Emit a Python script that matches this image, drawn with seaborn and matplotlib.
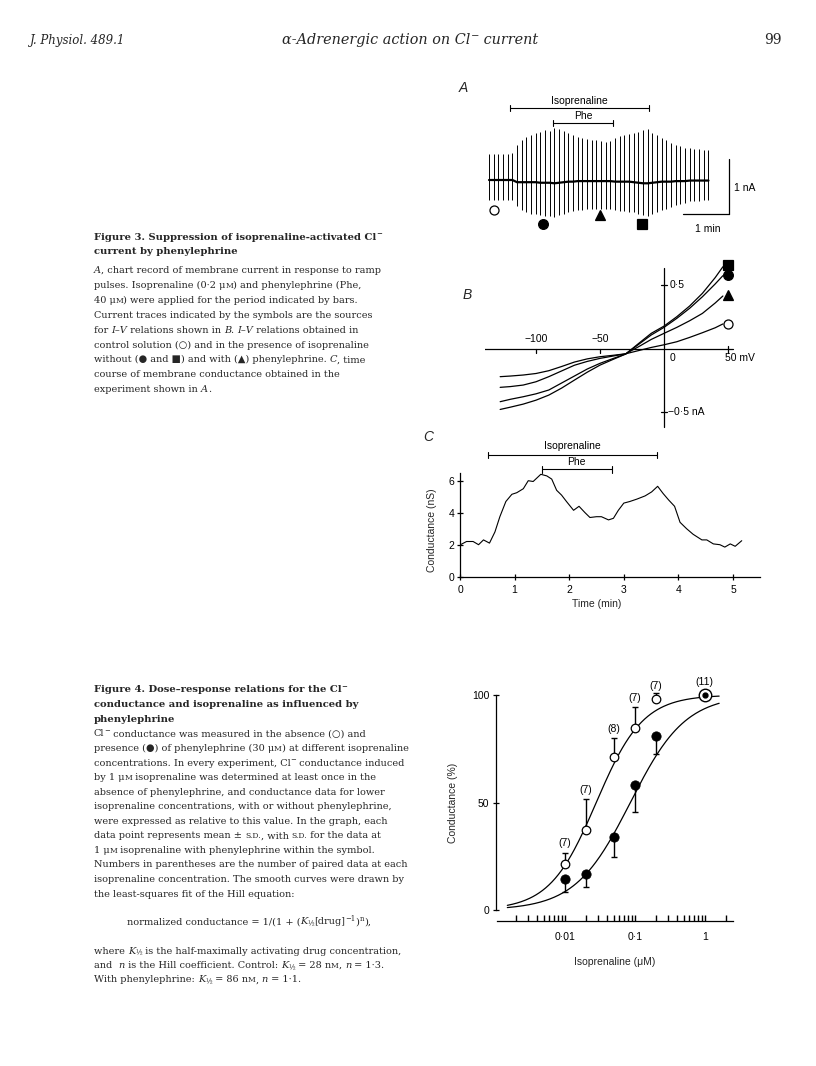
import re
import numpy as np
import pandas as pd
import matplotlib
matplotlib.use("Agg")
import matplotlib.pyplot as plt
import seaborn as sns

sns.set_style("white")
plt.rcParams["font.family"] = ["Liberation Sans", "DejaVu Sans"]
plt.rcParams["axes.unicode_minus"] = True

W, H = 816, 1066

# ------------------------------------------------------------------ data
# Figure 3A: chart record, one ramp pulse every 0.1 min (envelope in nA)
ramp_time = [0.0, 0.1, 0.2, 0.3, 0.4, 0.5, 0.6, 0.7, 0.8, 0.9, 1.0, 1.1, 1.2, 1.3,
             1.4, 1.5, 1.6, 1.7, 1.8, 1.9, 2.0, 2.1, 2.2, 2.3, 2.4, 2.5, 2.6, 2.7,
             2.8, 2.9, 3.0, 3.1, 3.2, 3.3, 3.4, 3.5, 3.6, 3.7, 3.8, 3.9, 4.0, 4.1,
             4.2, 4.3, 4.4, 4.5, 4.6, 4.7]
ramp_top = [0.48, 0.48, 0.48, 0.48, 0.48, 0.49, 0.64, 0.73, 0.78, 0.82, 0.85, 0.88,
            0.91, 0.89, 0.94, 0.92, 0.90, 0.85, 0.82, 0.79, 0.76, 0.74, 0.73, 0.72,
            0.71, 0.70, 0.71, 0.76, 0.80, 0.82, 0.84, 0.86, 0.88, 0.91, 0.92, 0.85,
            0.82, 0.76, 0.72, 0.67, 0.64, 0.61, 0.59, 0.58, 0.56, 0.56, 0.55, 0.55]
ramp_bottom = [-0.36, -0.36, -0.36, -0.36, -0.36, -0.37, -0.48, -0.55, -0.58, -0.61,
               -0.62, -0.64, -0.65, -0.65, -0.67, -0.64, -0.61, -0.58, -0.56, -0.55,
               -0.54, -0.53, -0.52, -0.52, -0.52, -0.52, -0.52, -0.54, -0.56, -0.57,
               -0.58, -0.59, -0.62, -0.64, -0.66, -0.62, -0.58, -0.55, -0.52, -0.49,
               -0.46, -0.43, -0.41, -0.39, -0.38, -0.38, -0.37, -0.36]
ramp_hold = [0.0, 0.0, 0.0, 0.0, 0.0, 0.0, -0.04, -0.04, -0.04, -0.04, -0.04, -0.05,
             -0.05, -0.05, -0.06, -0.05, -0.04, -0.03, -0.03, -0.02, -0.02, -0.02,
             -0.02, -0.02, -0.02, -0.02, -0.02, -0.03, -0.03, -0.03, -0.03, -0.04,
             -0.05, -0.06, -0.06, -0.05, -0.04, -0.03, -0.03, -0.03, -0.02, -0.02,
             -0.02, -0.01, -0.01, -0.01, -0.01, -0.01]
iv_sweep_time = [0.1, 1.15, 2.38, 3.28]          # sweeps marked by symbols
a_iso_period = [0.45, 3.43]
a_phe_period = [1.37, 2.66]

# Figure 3B: I-V relations (mV, nA)
iv_voltage = [-128, -120, -110, -100, -90, -80, -70, -60, -50, -40, -30, -20, -10,
              0, 10, 20, 30, 40, 46]
iv_control = [-0.22, -0.215, -0.207, -0.195, -0.173, -0.14, -0.105, -0.08, -0.063,
              -0.052, -0.04, -0.015, 0.01, 0.031, 0.055, 0.089, 0.126, 0.165, 0.195]
iv_with_phe = [-0.304, -0.298, -0.286, -0.26, -0.22, -0.175, -0.13, -0.10, -0.076,
               -0.058, -0.04, 0.015, 0.073, 0.121, 0.168, 0.22, 0.278, 0.36, 0.415]
iv_iso_early = [-0.417, -0.398, -0.378, -0.355, -0.325, -0.27, -0.215, -0.16, -0.115,
                -0.078, -0.042, 0.033, 0.108, 0.168, 0.239, 0.318, 0.409, 0.51, 0.575]
iv_iso_late = [-0.478, -0.46, -0.436, -0.405, -0.365, -0.31, -0.247, -0.185, -0.129,
               -0.085, -0.042, 0.04, 0.121, 0.178, 0.252, 0.336, 0.436, 0.56, 0.645]
iv_end_current = [0.195, 0.42, 0.58, 0.66]

# Figure 3C: conductance time course
cond_time = [0.02, 0.12, 0.24, 0.34, 0.43, 0.54, 0.64, 0.73, 0.84, 0.95, 1.04, 1.16,
             1.25, 1.34, 1.48, 1.59, 1.68, 1.77, 1.86, 1.95, 2.08, 2.18, 2.29, 2.38,
             2.50, 2.59, 2.72, 2.81, 2.90, 3.00, 3.11, 3.24, 3.39, 3.51, 3.62, 3.72,
             3.82, 3.93, 4.03, 4.15, 4.27, 4.43, 4.52, 4.64, 4.76, 4.85, 4.95, 5.04, 5.16]
cond_ns = [2.02, 2.2, 2.2, 2.0, 2.3, 2.1, 2.8, 3.75, 4.7, 5.15, 5.25, 5.5, 6.0, 5.95,
           6.4, 6.3, 6.1, 5.4, 5.1, 4.7, 4.15, 4.4, 4.0, 3.7, 3.75, 3.75, 3.55, 3.65,
           4.15, 4.6, 4.7, 4.85, 5.05, 5.3, 5.65, 5.2, 4.8, 4.4, 3.4, 3.0, 2.65, 2.3,
           2.3, 2.05, 2.0, 1.85, 2.05, 1.9, 2.25]
c_iso_period = [0.51, 3.60]
c_phe_period = [1.50, 2.78]

# Figure 4: dose-response
iso_conc = [0.01, 0.02, 0.05, 0.1, 0.2, 1.0]
ctrl_mean = [21.4, 37.2, 71.0, 84.5, 98.1, 100.0]
ctrl_sd = [5.2, 14.3, 9.2, 9.8, 2.7, 0.0]
phe_mean = [14.3, 16.7, 34.1, 58.1, 81.0, 100.0]
phe_sd = [6.1, 6.2, 9.6, 12.4, 8.6, 0.0]
n_pairs = ["(7)", "(7)", "(8)", "(7)", "(7)", "(11)"]
n_label_y = [31.3, 55.8, 84.0, 98.6, 104.3, 105.9]
hill_ctrl = (0.028, 1.3)   # K1/2 (uM), n
hill_phe = (0.086, 1.1)

# ------------------------------------------------------------------ helpers
fig = plt.figure(figsize=(W / 100, H / 100), dpi=100)
fig.patch.set_facecolor("white")
R = fig.canvas.get_renderer()
SERIF = ["DejaVu Serif", "DejaVu Sans"]
SANS = ["Liberation Sans", "DejaVu Sans"]


def px_axes(x0, y0, x1, y1):
    return fig.add_axes([x0 / W, 1 - y1 / H, (x1 - x0) / W, (y1 - y0) / H])


def seg_width(txt, kw):
    t1 = fig.text(0, 0, "|" + txt + "|", **kw)
    t2 = fig.text(0, 0, "||", **kw)
    w = t1.get_window_extent(R).width - t2.get_window_extent(R).width
    t1.remove()
    t2.remove()
    return w


TAG = re.compile(r"(<i>.*?</i>|<sup>.*?</sup>|<sub>.*?</sub>|<sc>.*?</sc>)")


def rich(x_px, y_px, markup, size, weight="normal", style="normal",
         family=SERIF, draw=True, ha="left"):
    parts = [p for p in TAG.split(markup) if p]
    items = []
    for p in parts:
        kw = dict(family=family, size=size, weight=weight, style=style)
        dy = 0.0
        if p.startswith("<i>"):
            txt = p[3:-4]
            kw["style"] = "italic"
        elif p.startswith("<sup>"):
            txt = p[5:-6]
            kw["size"] = size * 0.7
            dy = -size * 1.389 * 0.38
        elif p.startswith("<sub>"):
            txt = p[5:-6]
            kw["size"] = size * 0.7
            dy = size * 1.389 * 0.22
        elif p.startswith("<sc>"):
            txt = p[4:-5]
            kw["size"] = size * 0.78
        else:
            txt = p
        items.append((txt, kw, dy, seg_width(txt, kw)))
    total = sum(it[3] for it in items)
    if not draw:
        return total
    x = x_px - (total / 2 if ha == "center" else 0)
    for txt, kw, dy, w in items:
        fig.text(x / W, 1 - (y_px + dy) / H, txt, ha="left", va="baseline", **kw)
        x += w
    return total


def fit_size(markup, target, **kw):
    return 10.0 * target / rich(0, 0, markup, 10.0, draw=False, **kw)


# ------------------------------------------------------------------ header
hdr_size = fit_size("<i>α-Adrenergic action on Cl</i><sup>−</sup><i> current</i>", 255)
rich(410, 44, "<i>α-Adrenergic action on Cl</i><sup>−</sup><i> current</i>", hdr_size, ha="center")
fig.text(30 / W, 1 - 44 / H, "J. Physiol. 489.1", family=SERIF, style="italic",
         size=8.5, ha="left", va="baseline")
fig.text(782 / W, 1 - 44 / H, "99", family=SERIF, size=10, ha="right", va="baseline")

# ------------------------------------------------------------------ captions
X0 = 94
f3_title = ["Figure 3. Suppression of isoprenaline-activated Cl<sup>−</sup>",
            "current by phenylephrine"]
f3_body = ["<i>A</i>, chart record of membrane current in response to ramp",
           "pulses. Isoprenaline (0·2 μ<sc>M</sc>) and phenylephrine (Phe,",
           "40 μ<sc>M</sc>) were applied for the period indicated by bars.",
           "Current traces indicated by the symbols are the sources",
           "for <i>I–V</i> relations shown in <i>B</i>. <i>I–V</i> relations obtained in",
           "control solution (○) and in the presence of isoprenaline",
           "without (● and ■) and with (▲) phenylephrine. <i>C</i>, time",
           "course of membrane conductance obtained in the",
           "experiment shown in <i>A</i>."]
tsize = fit_size(f3_title[0], 287, weight="bold")
bsize = fit_size(f3_body[0], 287)
for k, line in enumerate(f3_title):
    rich(X0, 236 + 3.5 + 15 * k, line, tsize, weight="bold")
for k, line in enumerate(f3_body):
    rich(X0, 269.5 + 3.5 + 14.9 * k, line, bsize)

f4_title = ["Figure 4. Dose–response relations for the Cl<sup>−</sup>",
            "conductance and isoprenaline as influenced by",
            "phenylephrine"]
f4_body = ["Cl<sup>−</sup> conductance was measured in the absence (○) and",
           "presence (●) of phenylephrine (30 μ<sc>M</sc>) at different isoprenaline",
           "concentrations. In every experiment, Cl<sup>−</sup> conductance induced",
           "by 1 μ<sc>M</sc> isoprenaline was determined at least once in the",
           "absence of phenylephrine, and conductance data for lower",
           "isoprenaline concentrations, with or without phenylephrine,",
           "were expressed as relative to this value. In the graph, each",
           "data point represents mean ± <sc>S.D.</sc>, with <sc>S.D.</sc> for the data at",
           "1 μ<sc>M</sc> isoprenaline with phenylephrine within the symbol.",
           "Numbers in parentheses are the number of paired data at each",
           "isoprenaline concentration. The smooth curves were drawn by",
           "the least-squares fit of the Hill equation:"]
f4_formula = "normalized conductance = 1/(1 + (<i>K</i><sub>½</sub>[drug]<sup>−1</sup>)<sup>n</sup>),"
f4_tail = ["where <i>K</i><sub>½</sub> is the half-maximally activating drug concentration,",
           "and  <i>n</i> is the Hill coefficient. Control: <i>K</i><sub>½</sub> = 28 n<sc>M</sc>, <i>n</i> = 1·3.",
           "With phenylephrine: <i>K</i><sub>½</sub> = 86 n<sc>M</sc>, <i>n</i> = 1·1."]
bsize4 = fit_size(f4_body[1], 316)
for k, line in enumerate(f4_title):
    rich(X0, 689 + 3.5 + 14.5 * k, line, tsize, weight="bold")
for k, line in enumerate(f4_body):
    rich(X0, 733 + 3.5 + 14.55 * k, line, bsize4)
rich(127, 921 + 3.5, f4_formula, bsize4)
for k, line in enumerate(f4_tail):
    rich(X0, 950 + 3.5 + 14.5 * k, line, bsize4)

LBL = dict(family=SANS, size=7.5, color="black")

# ------------------------------------------------------------------ Figure 3A
axA = px_axes(479.7, 92, 764.5, 235)
axA.set_xlim(-0.2, 5.9)
axA.set_ylim(-1.0, 1.6)
axA.axis("off")
axA.vlines(ramp_time, ramp_bottom, ramp_top, color="black", lw=0.7)
sns.lineplot(x=ramp_time, y=ramp_hold, ax=axA, color="black", lw=1.6)
for (t0, t1), yb, name, yl in [(a_iso_period, 1.31, "Isoprenaline", 1.44),
                               (a_phe_period, 1.04, "Phe", 1.17)]:
    axA.plot([t0, t1], [yb, yb], color="black", lw=0.8)
    axA.plot([t0, t0], [yb - 0.05, yb + 0.05], color="black", lw=0.8)
    axA.plot([t1, t1], [yb - 0.05, yb + 0.05], color="black", lw=0.8)
    axA.text((t0 + t1) / 2, yl, name, ha="center", va="center", **LBL)
axA.plot([5.14, 5.14], [0.38, -0.62], color="black", lw=0.9)
axA.plot([4.15, 5.14], [-0.62, -0.62], color="black", lw=0.9)
axA.text(5.48, -0.15, "1 nA", ha="center", va="center", **LBL)
axA.text(4.69, -0.89, "1 min", ha="center", va="center", **LBL)
mark_y = [-0.55, -0.80, -0.64, -0.80]
mstyle = [dict(marker="o", mfc="white", ms=6.5), dict(marker="o", mfc="black", ms=7),
          dict(marker="^", mfc="black", ms=6.5), dict(marker="s", mfc="black", ms=6.5)]
for t, y, st in zip(iv_sweep_time, mark_y, mstyle):
    axA.plot([t], [y], mec="black", mew=0.9, ls="none", clip_on=False, **st)
fig.text(463 / W, 1 - 88 / H, "A", family=SANS, style="italic", size=10, ha="center", va="center")

# ------------------------------------------------------------------ Figure 3B
axB = px_axes(484.8, 259.8, 740.8, 431.3)
axB.set_xlim(-140, 60)
axB.set_ylim(-0.65, 0.7)
axB.axis("off")
iv_df = pd.DataFrame({
    "V": iv_voltage * 4,
    "I": iv_control + iv_with_phe + iv_iso_early + iv_iso_late,
    "cond": (["control"] * len(iv_voltage) + ["phe"] * len(iv_voltage)
             + ["iso1"] * len(iv_voltage) + ["iso2"] * len(iv_voltage)),
})
sns.lineplot(data=iv_df, x="V", y="I", units="cond", estimator=None, sort=False,
             color="black", lw=0.9, ax=axB)
axB.plot([-140.6, 53.9], [0, 0], color="black", lw=0.9)
axB.plot([0, 0], [-0.617, 0.635], color="black", lw=0.9)
for v in (-100, -50):
    axB.plot([v, v], [0, -0.03], color="black", lw=0.9)
axB.plot([50, 50], [0.025, -0.03], color="black", lw=0.9)
for c in (0.5, -0.5):
    axB.plot([-2.4, 2.4], [c, c], color="black", lw=0.9)
axB.text(-100, 0.076, "−100", ha="center", va="center", **LBL)
axB.text(-50, 0.076, "−50", ha="center", va="center", **LBL)
axB.text(6.3, -0.073, "0", ha="center", va="center", **LBL)
axB.text(48, -0.073, "50 mV", ha="left", va="center", **LBL)
axB.text(4.5, 0.5, "0·5", ha="left", va="center", **LBL)
axB.text(3.5, -0.5, "−0·5 nA", ha="left", va="center", **LBL)
end_style = [dict(marker="o", mfc="white", ms=6.5), dict(marker="^", mfc="black", ms=6.5),
             dict(marker="o", mfc="black", ms=7), dict(marker="s", mfc="black", ms=6.5)]
for c, st in zip(iv_end_current, end_style):
    axB.plot([50], [c], mec="black", mew=0.9, ls="none", clip_on=False, **st)
fig.text(467 / W, 1 - 295 / H, "B", family=SANS, style="italic", size=10, ha="center", va="center")

# ------------------------------------------------------------------ Figure 3C
axC = px_axes(460, 472.7, 760.3, 576.7)
sns.lineplot(x=cond_time, y=cond_ns, ax=axC, color="black", lw=0.8)
axC.set_xlim(0, 5.5)
axC.set_ylim(0, 6.5)
sns.despine(ax=axC)
for s in ("left", "bottom"):
    axC.spines[s].set_linewidth(0.9)
    axC.spines[s].set_color("black")
axC.set_xticks([0, 1, 2, 3, 4, 5])
axC.set_yticks([0, 2, 4, 6])
axC.tick_params(direction="inout", length=5, width=0.9, labelsize=7.5, colors="black")
axC.tick_params(axis="y", pad=1.5)
axC.tick_params(axis="x", pad=3.5)
axC.set_xlabel("Time (min)", fontsize=7.5)
axC.set_ylabel("Conductance (nS)", fontsize=7.5)
axC.xaxis.set_label_coords(0.456, -0.21)
axC.yaxis.set_label_coords(-0.078, 0.45)
for (t0, t1), yb, name, yl in [(c_iso_period, 7.6, "Isoprenaline", 8.15),
                               (c_phe_period, 6.71, "Phe", 7.15)]:
    axC.plot([t0, t1], [yb, yb], color="black", lw=0.8, clip_on=False)
    axC.plot([t0, t0], [yb - 0.2, yb + 0.2], color="black", lw=0.8, clip_on=False)
    axC.plot([t1, t1], [yb - 0.2, yb + 0.2], color="black", lw=0.8, clip_on=False)
    axC.text((t0 + t1) / 2, yl, name, ha="center", va="center", **LBL)
fig.text(428 / W, 1 - 437 / H, "C", family=SANS, style="italic", size=10, ha="center", va="center")

# ------------------------------------------------------------------ Figure 4
axD = px_axes(496.5, 677.8, 732.7, 921)
axD.set_xscale("log")
conc_grid = np.geomspace(0.0015, 1.6, 200)
for (k, n) in (hill_ctrl, hill_phe):
    resp = 100.0 / (1.0 + (k / conc_grid) ** n)
    sns.lineplot(x=conc_grid, y=resp, ax=axD, color="black", lw=0.9)
axD.errorbar(iso_conc[:-1], ctrl_mean[:-1], yerr=[[0] * 5, ctrl_sd[:-1]], fmt="none",
             ecolor="black", elinewidth=1.0, capsize=2.5, capthick=1.0)
axD.errorbar(iso_conc[:-1], phe_mean[:-1], yerr=[phe_sd[:-1], [0] * 5], fmt="none",
             ecolor="black", elinewidth=1.0, capsize=2.5, capthick=1.0)
sns.scatterplot(x=iso_conc[:-1], y=phe_mean[:-1], ax=axD, color="black", s=45,
                edgecolor="black", zorder=5)
sns.scatterplot(x=iso_conc[:-1], y=ctrl_mean[:-1], ax=axD, facecolor="white", s=38,
                edgecolor="black", linewidth=0.9, zorder=6)
axD.plot([iso_conc[-1]], [ctrl_mean[-1]], marker="o", ms=9, mfc="white", mec="black",
         mew=1.0, ls="none", zorder=7, clip_on=False)
axD.plot([iso_conc[-1]], [phe_mean[-1]], marker="o", ms=3.5, mfc="black", mec="black",
         ls="none", zorder=8, clip_on=False)
for c, lab, y in zip(iso_conc, n_pairs, n_label_y):
    axD.text(c, y, lab, ha="center", va="center", **LBL)
axD.set_xlim(0.00105, 2.5)
axD.set_ylim(-5.1, 108)
sns.despine(ax=axD)
axD.spines["left"].set_bounds(0, 100)
for s in ("left", "bottom"):
    axD.spines[s].set_linewidth(0.9)
    axD.spines[s].set_color("black")
axD.set_xticks([0.01, 0.1, 1])
axD.set_xticklabels(["0·01", "0·1", "1"])
minor = [m * d for d in (0.001, 0.01, 0.1) for m in range(2, 10)] + [2.0]
axD.set_xticks(minor, minor=True)
axD.xaxis.set_minor_formatter(matplotlib.ticker.NullFormatter())
axD.set_yticks([0, 50, 100])
axD.tick_params(axis="x", which="both", direction="in", length=4, width=1.0,
                labelsize=7.5, pad=8, colors="black", bottom=True)
axD.tick_params(axis="y", direction="inout", length=5, width=0.9, labelsize=7.5,
                pad=2.5, colors="black", left=True)
axD.set_xlabel("Isoprenaline (μM)", fontsize=7.5)
axD.set_ylabel("Conductance (%)", fontsize=7.5)
axD.xaxis.set_label_coords(0.502, -0.15)
axD.yaxis.set_label_coords(-0.165, 0.485)
axC.tick_params(bottom=True, left=True)

fig.savefig("out.png", dpi=100, facecolor="white")
